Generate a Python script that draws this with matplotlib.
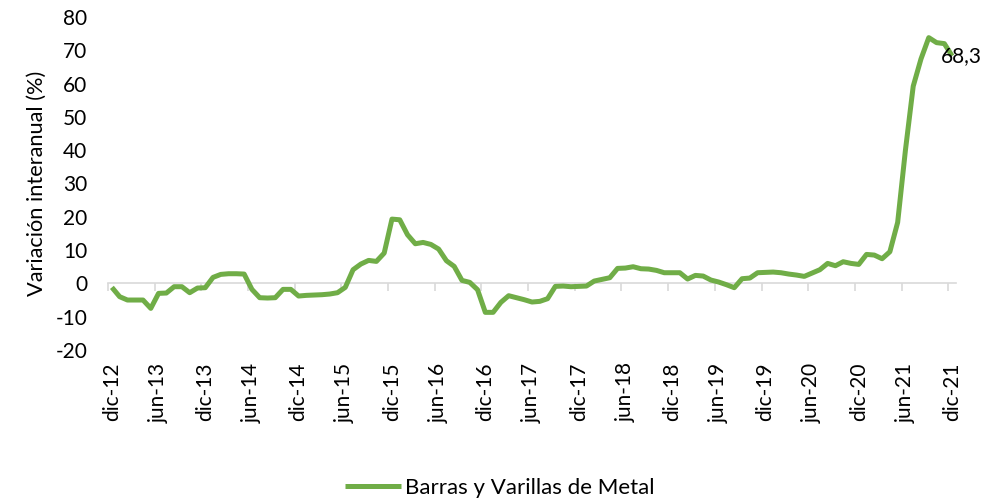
import matplotlib

matplotlib.use("Agg")
import matplotlib.pyplot as plt
import numpy as np

# monthly year-on-year change, dic-12 .. dic-21
values = [
    -1.2, -4.0, -5.0, -5.0, -5.0, -7.5, -3.0, -2.9, -1.0, -1.0,
    -2.8, -1.4, -1.3, 1.8, 2.7, 2.9, 2.9, 2.8, -1.8, -4.3,
    -4.4, -4.3, -1.8, -1.8, -3.8, -3.6, -3.5, -3.4, -3.2, -2.8,
    -1.2, 4.1, 5.8, 6.9, 6.6, 9.1, 19.3, 19.1, 14.6, 11.9,
    12.3, 11.7, 10.3, 6.8, 5.1, 0.9, 0.3, -1.9, -8.7, -8.7,
    -5.7, -3.7, -4.3, -4.9, -5.6, -5.4, -4.6, -0.9, -0.8, -1.0,
    -0.9, -0.8, 0.7, 1.2, 1.7, 4.5, 4.6, 5.0, 4.4, 4.3,
    3.9, 3.2, 3.2, 3.2, 1.3, 2.4, 2.2, 1.0, 0.4, -0.4,
    -1.3, 1.4, 1.6, 3.2, 3.3, 3.4, 3.2, 2.8, 2.5, 2.1,
    3.1, 4.1, 6.0, 5.3, 6.5, 6.0, 5.7, 8.7, 8.5, 7.4,
    9.5, 18.3, 40.0, 59.2, 67.4, 73.8, 72.3, 72.0, 68.3,
]
tick_labels = [
    "dic-12", "jun-13", "dic-13", "jun-14", "dic-14", "jun-15", "dic-15",
    "jun-16", "dic-16", "jun-17", "dic-17", "jun-18", "dic-18", "jun-19",
    "dic-19", "jun-20", "dic-20", "jun-21", "dic-21",
]
series_name = "Barras y Varillas de Metal"
last_label = "68,3"

plt.rcParams["font.family"] = ["Lato", "DejaVu Sans"]
plt.rcParams["axes.unicode_minus"] = False

x = np.arange(len(values))
figure = plt.figure(figsize=(10, 5.04), dpi=100)
axis = figure.add_axes([0.108, 0.3056, 0.848, 0.6607])

axis.plot(x, values, color="#70AD47", linewidth=3.6, label=series_name,
          solid_joinstyle="round", solid_capstyle="butt")
axis.annotate(last_label, (x[-1], values[-1]), xytext=(-8, 0),
              textcoords="offset points", ha="left", va="center", fontsize=15)

axis.set_xlim(-0.5, len(values) - 0.5)
axis.set_ylim(-20, 80)
axis.set_yticks(np.arange(-20, 81, 10))
axis.tick_params(axis="y", length=0, labelsize=15, pad=15)
axis.set_xticks(x[::6])
axis.set_xticklabels(tick_labels, rotation=90, fontsize=15)
axis.tick_params(axis="x", length=0, pad=9)
axis.set_ylabel("Variación interanual (%)", fontsize=15.7, labelpad=6)
for side in ["top", "right", "left", "bottom"]:
    axis.spines[side].set_visible(False)

# category axis crossing at zero, tick marks between categories
zero_axis = axis.secondary_xaxis(0.2)
zero_axis.set_xticks(np.arange(-0.5, len(values), 6))
zero_axis.set_xticklabels([])
zero_axis.tick_params(direction="out", length=6, width=1.2, color="#d9d9d9")
zero_axis.spines["bottom"].set_color("#d9d9d9")
zero_axis.spines["bottom"].set_linewidth(1.2)

figure.legend(loc="lower center", bbox_to_anchor=(0.5, -0.028), frameon=False,
              fontsize=16, handlelength=2.5, handletextpad=0.2)
figure.savefig("out.png", dpi=100)
plt.close(figure)
